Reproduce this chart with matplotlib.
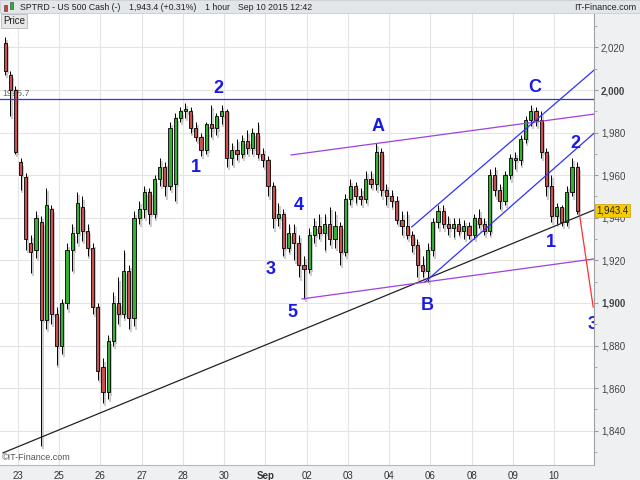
import matplotlib
matplotlib.use("Agg")
import matplotlib.pyplot as plt
import matplotlib.transforms as mtransforms
from matplotlib.patches import Rectangle
from matplotlib.ticker import MultipleLocator

plt.rcParams["font.family"] = ["Liberation Sans", "DejaVu Sans"]

# SPTRD - US 500 Cash (8 bars per day)
opens = [2022, 2007, 2000, 1966, 1959, 1928, 1925, 1938, 1892, 1944,
         1895, 1880, 1900, 1925, 1933, 1945, 1934, 1926, 1898, 1870,
         1858, 1882, 1900, 1895, 1915, 1893, 1940, 1944, 1952, 1942,
         1958, 1964, 1955, 1956, 1987, 1990, 1990, 1982, 1978, 1972,
         1984, 1982, 1988, 1990, 1968, 1972, 1970, 1976, 1973, 1980,
         1970, 1967, 1955, 1940, 1942, 1926, 1933, 1928, 1918, 1916,
         1932, 1936, 1933, 1937, 1930, 1936, 1924, 1949, 1955, 1950,
         1949, 1958, 1956, 1971, 1953, 1950, 1948, 1939, 1936, 1932,
         1927, 1918, 1915, 1925, 1938, 1943, 1937, 1935, 1937, 1934,
         1936, 1932, 1940, 1937, 1934, 1960, 1953, 1948, 1960, 1968,
         1967, 1977, 1986, 1990, 1986, 1971, 1955, 1941, 1945, 1938,
         1952, 1964]
highs = [2025, 2009, 2002, 1968, 1961, 1932, 1943, 1941, 1954, 1946,
         1898, 1902, 1928, 1937, 1952, 1950, 1937, 1928, 1900, 1874,
         1885, 1905, 1912, 1925, 1918, 1943, 1948, 1955, 1954, 1960,
         1968, 1966, 1985, 1989, 1992, 1994, 1992, 1985, 1980, 1985,
         1993, 1989, 1993, 1991, 1975, 1977, 1979, 1981, 1982, 1985,
         1973, 1969, 1957, 1947, 1944, 1937, 1937, 1932, 1922, 1935,
         1940, 1942, 1942, 1945, 1943, 1938, 1951, 1958, 1957, 1954,
         1962, 1962, 1975, 1973, 1956, 1953, 1950, 1943, 1943, 1934,
         1930, 1922, 1928, 1940, 1946, 1946, 1941, 1940, 1940, 1939,
         1938, 1942, 1944, 1940, 1963, 1964, 1956, 1962, 1970, 1971,
         1979, 1988, 1993, 1992, 1990, 1973, 1960, 1947, 1946, 1955,
         1968, 1966]
lows = [2007, 1988, 1970, 1953, 1925, 1914, 1921, 1833, 1888, 1890,
        1871, 1876, 1897, 1915, 1928, 1929, 1922, 1895, 1864, 1853,
        1855, 1880, 1890, 1893, 1888, 1889, 1937, 1940, 1937, 1940,
        1955, 1950, 1953, 1948, 1985, 1987, 1980, 1976, 1969, 1970,
        1978, 1979, 1984, 1964, 1965, 1967, 1968, 1970, 1970, 1968,
        1964, 1950, 1935, 1936, 1922, 1924, 1920, 1912, 1902, 1914,
        1928, 1930, 1925, 1927, 1926, 1918, 1922, 1946, 1947, 1946,
        1947, 1954, 1953, 1950, 1946, 1945, 1937, 1932, 1930, 1924,
        1912, 1912, 1910, 1922, 1935, 1935, 1932, 1931, 1932, 1930,
        1930, 1930, 1935, 1932, 1932, 1950, 1944, 1946, 1958, 1963,
        1965, 1975, 1983, 1983, 1968, 1950, 1938, 1937, 1936, 1936,
        1950, 1942]
closes = [2009, 2000, 1971, 1960, 1930, 1924, 1940, 1892, 1946, 1895,
          1880, 1900, 1925, 1933, 1947, 1934, 1926, 1898, 1868, 1858,
          1882, 1900, 1895, 1915, 1893, 1940, 1944, 1952, 1942, 1958,
          1964, 1955, 1982, 1987, 1990, 1991, 1982, 1978, 1972, 1984,
          1982, 1988, 1990, 1968, 1972, 1970, 1976, 1973, 1980, 1970,
          1967, 1955, 1940, 1942, 1926, 1933, 1928, 1918, 1916, 1932,
          1936, 1933, 1937, 1930, 1936, 1924, 1949, 1955, 1950, 1949,
          1958, 1956, 1971, 1953, 1950, 1948, 1939, 1936, 1932, 1927,
          1918, 1915, 1925, 1938, 1943, 1937, 1935, 1937, 1934, 1936,
          1932, 1940, 1937, 1934, 1960, 1953, 1948, 1960, 1968, 1967,
          1977, 1986, 1990, 1986, 1971, 1955, 1941, 1945, 1938, 1952,
          1964, 1943.4]

day_labels = ["23", "25", "26", "27", "28", "30", "Sep", "02", "03", "04",
              "06", "08", "09", "10"]
bars_per_day = 8
last_price = 1943.4
resistance = 1995.7

# drawn lines: (bar index, price) end points
trend_black = [(-0.4, 1829.6), (114.3, 1943.7)]
purple_top = [(55.5, 1969.5), (114.3, 1988.7)]
purple_bottom = [(57.6, 1901.9), (114.3, 1920.7)]
blue_top = [(78.9, 1935.7), (114.3, 2009.4)]
blue_bottom = [(81.5, 1909.9), (114.3, 1979.8)]
red_projection = [(111.4, 1942.3), (114.1, 1898.1)]

# wave labels: (text, bar index, price)
wave_labels = [("2", 41.3, 2000.9), ("1", 37.0, 1963.4), ("3", 51.6, 1915.5),
               ("4", 57.0, 1946.0), ("5", 55.7, 1895.3), ("A", 72.4, 1983.1),
               ("B", 82.0, 1899.0), ("C", 102.8, 2001.4), ("2", 110.6, 1975.1),
               ("1", 105.9, 1928.6), ("3", 114.0, 1889.7)]

fig = plt.figure(figsize=(6.4, 4.8), dpi=100)
fig.patch.set_facecolor("#eef0f2")
ax = fig.add_axes([0, 15 / 480, 594 / 640, 451 / 480])
ax.set_facecolor("white")

xs = list(range(len(opens)))
up = [c >= o for o, c in zip(opens, closes)]
body_col = ["#35b035" if u else "#c85050" for u in up]
bottoms = [min(o, c) for o, c in zip(opens, closes)]
heights = [max(abs(c - o), 0.4) for o, c in zip(opens, closes)]

# grey drop shadow
sx = [x + 0.35 for x in xs]
ax.vlines(sx, [l - 1.5 for l in lows], [h - 1.5 for h in highs],
          color="#c8c8c8", lw=1.3, zorder=2)
ax.bar(sx, heights, bottom=[b - 1.5 for b in bottoms], width=0.62,
       color="#c8c8c8", zorder=2)
# candles
ax.vlines(xs, lows, highs, color="black", lw=0.7, zorder=3)
ax.bar(xs, heights, bottom=bottoms, width=0.62, color=body_col,
       edgecolor="black", linewidth=0.6, zorder=4)

ax.axhline(resistance, color="#3030ff", lw=0.9, zorder=5)
for pts, col in [(trend_black, "#222222"), (purple_top, "#a040e0"),
                 (purple_bottom, "#a040e0"), (blue_top, "#3030ff"),
                 (blue_bottom, "#3030ff"), (red_projection, "#ff3030")]:
    ax.plot([p[0] for p in pts], [p[1] for p in pts], color=col, lw=0.9, zorder=5)

for t, x, y in wave_labels:
    ax.text(x, y, t, color="#1a1ae6", fontsize=13, fontweight="bold",
            ha="center", va="center", zorder=6, clip_on=True)

ax.text(-0.6, resistance + 0.6, "1995.7", color="#666666", fontsize=6.5,
        ha="left", va="bottom", zorder=1)

ax.set_xlim(-0.99, 114.26)
ax.set_ylim(1823.9, 2035.7)

tick_pos = [2.5 + bars_per_day * k for k in range(len(day_labels))]
ax.set_xticks(tick_pos)
ax.set_xticklabels(day_labels)
for lab in ax.get_xticklabels():
    if lab.get_text() == "Sep":
        lab.set_fontweight("bold")
ax.tick_params(axis="x", length=0, labelsize=7, labelcolor="#333333", pad=4)

ax.yaxis.tick_right()
yt = list(range(1840, 2021, 20))
ax.set_yticks(yt)
ax.set_yticklabels([f"{v:,}" for v in yt])
for lab, v in zip(ax.get_yticklabels(), yt):
    if v % 100 == 0:
        lab.set_fontweight("bold")
        lab.set_color("#111111")
ax.yaxis.set_minor_locator(MultipleLocator(10))
ax.tick_params(axis="y", which="major", length=3, color="#999999",
               labelsize=7, labelcolor="#444444", pad=2)
ax.tick_params(axis="y", which="minor", length=2, color="#999999")

ax.grid(True, color="#e4e4e4", lw=0.8)
ax.set_axisbelow(True)
for s in ["top", "left"]:
    ax.spines[s].set_visible(False)
ax.spines["right"].set_color("#a0a0a0")
ax.spines["bottom"].set_color("#b8b8b8")

trans = mtransforms.blended_transform_factory(ax.transAxes, ax.transData)
ax.text(1.004, last_price, f"{last_price:,.1f}", transform=trans, fontsize=7,
        ha="left", va="center", color="#222222", clip_on=False, zorder=10,
        bbox=dict(boxstyle="square,pad=0.15", fc="#f5cc00", ec="#d0a000", lw=0.5))

ax.text(0.003, 0.006, "©IT-Finance.com", transform=ax.transAxes, fontsize=6.5,
        color="#555555", ha="left", va="bottom")

# header bar
fig.patches.append(Rectangle((0, 1 - 13 / 480), 1, 13 / 480, transform=fig.transFigure,
                             facecolor="#e2e6ea", edgecolor="#c4c8cc", lw=0.5))
fig.patches.append(Rectangle((4 / 640, 1 - 11 / 480), 3 / 640, 6 / 480,
                             transform=fig.transFigure, fc="#d04040", ec="#333", lw=0.4))
fig.patches.append(Rectangle((10 / 640, 1 - 9 / 480), 3 / 640, 7 / 480,
                             transform=fig.transFigure, fc="#30b030", ec="#333", lw=0.4))
hy = 1 - 7 / 480
head_kw = dict(fontsize=6.3, va="center", color="#222222")
fig.text(20 / 640, hy, "SPTRD - US 500 Cash (-)", **head_kw)
fig.text(129 / 640, hy, "1,943.4 (+0.31%)", **head_kw)
fig.text(205 / 640, hy, "1 hour", **head_kw)
fig.text(238 / 640, hy, "Sep 10 2015 12:42", **head_kw)
fig.text(636 / 640, hy, "IT-Finance.com", ha="right", fontsize=6.5, va="center",
         color="#222222")

fig.text(3 / 640, 1 - 21 / 480, "Price", fontsize=7, va="center", ha="left", color="#222222",
         bbox=dict(boxstyle="square,pad=0.2", fc="#e8e8e8", ec="#aaaaaa", lw=0.5))

fig.savefig("out.png", dpi=100, facecolor=fig.get_facecolor())
